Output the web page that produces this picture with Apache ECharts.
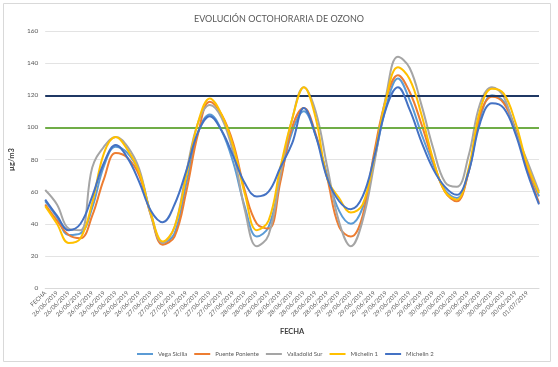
<!DOCTYPE html>
<html><head><meta charset="utf-8">
<script src="https://cdn.jsdelivr.net/npm/echarts@6/dist/echarts.min.js"></script>
<style>html,body{margin:0;padding:0;background:#fff}#c{width:558px;height:367px}</style>
</head><body><div id="c"></div>
<script>
const fechas = ["FECHA",
 "26/06/2019","26/06/2019","26/06/2019","26/06/2019","26/06/2019","26/06/2019","26/06/2019","26/06/2019",
 "27/06/2019","27/06/2019","27/06/2019","27/06/2019","27/06/2019","27/06/2019","27/06/2019","27/06/2019",
 "28/06/2019","28/06/2019","28/06/2019","28/06/2019","28/06/2019","28/06/2019","28/06/2019","28/06/2019",
 "29/06/2019","29/06/2019","29/06/2019","29/06/2019","29/06/2019","29/06/2019","29/06/2019","29/06/2019",
 "30/06/2019","30/06/2019","30/06/2019","30/06/2019","30/06/2019","30/06/2019","30/06/2019","30/06/2019",
 "01/07/2019","01/07/2019"];
const yTicks = [0,20,40,60,80,100,120,140,160];

const vegaSicilia = [54,44,33,34,50,76,88, 84,72,46,28,34,65,97,108, 98,78,50,32,38,68,97,110,
  95,70,48,40,50,80,113,130.5, 117,96,77,61,56,72,106,120, 116,99,76,57];
const puentePoniente = [52,42,33,31,45,68,84, 81,70,45,27,32,60,96,116, 108,90,60,40,37,66,100,112,
  96,68,38,32,45,85,118,132.5, 122,102,79,60,54,72,108,119, 115,98,74,53];
const valladolidSur = [61,52,37,36,75,88,94, 88,74,45,28,38,72,103,114, 106,84,48,26,33,70,105,125,
  110,75,41,26,42,78,120,144, 137,114,87,66,63,82,115,125, 119,97,79,60];
const michelin1 = [51,40,28,31,53,84,94, 86,72,46,29,38,70,103,118, 108,88,58,36,42,75,105,125,
  106,68,56,47,52,82,118,137.5, 130,108,80,60,55,74,111,124, 121,103,77,59];
const michelin2 = [55,45,36,40,57,78,89, 81,66,48,41,52,73,97,107, 98,82,65,57,60,75,90,112,
  95,68,54,49,57,82,112,125, 111,91,74,63,58,72,103,115, 112,96,72,52];

const umbralInformacion = 120;
const valorObjetivo = 100;

const names = ["Vega Sicilia","Puente Poniente","Valladolid Sur","Michelin 1","Michelin 2"];
const values = [vegaSicilia, puentePoniente, valladolidSur, michelin1, michelin2];
const colors = ["#5B9BD5","#ED7D31","#A5A5A5","#FFC000","#4472C4"];
const FONT = "Lato";

const chart = echarts.init(document.getElementById('c'));
const series = names.map((n,i)=>({
  name:n, type:'line', data:values[i], smooth:0.4, showSymbol:false, symbol:'none',
  lineStyle:{width:2,color:colors[i]}, itemStyle:{color:colors[i]}, z:2+i,
  emphasis:{disabled:true}
}));
series[4].markLine = {
  silent:true, symbol:'none', label:{show:false},
  data:[
    {yAxis:umbralInformacion, lineStyle:{color:'#1F3864',width:2,type:'solid'}},
    {yAxis:valorObjetivo, lineStyle:{color:'#70AD47',width:2,type:'solid'}}
  ]
};
chart.setOption({
  animation:false,
  textStyle:{fontFamily:FONT},
  title:{text:'EVOLUCIÓN OCTOHORARIA DE OZONO', left:'center', top:10,
    textStyle:{fontFamily:FONT,fontSize:9,fontWeight:'normal',color:'#595959'}},
  graphic:[{type:'rect',shape:{x:3.5,y:3.5,width:547,height:358},style:{fill:'none',stroke:'#D9D9D9',lineWidth:1},silent:true}],
  grid:{left:43,right:19,top:31,bottom:79},
  legend:{data:names, left:132, top:346, icon:'rect', itemWidth:16, itemHeight:2, itemGap:7,
    textStyle:{fontFamily:FONT,fontSize:6,color:'#595959'}},
  xAxis:{type:'category', data:fechas, boundaryGap:false,
    name:'FECHA', nameLocation:'middle', nameGap:40,
    nameTextStyle:{fontFamily:FONT,fontSize:7.5,fontWeight:'bold',color:'#404040'},
    axisLine:{lineStyle:{color:'#D9D9D9'}}, axisTick:{show:false},
    axisLabel:{rotate:45, fontSize:6, color:'#595959', margin:4,
      interval:(idx)=>idx < fechas.length-1}},
  yAxis:{type:'value', min:yTicks[0], max:yTicks[yTicks.length-1], interval:20,
    name:'µg/m3', nameLocation:'middle', nameGap:25, nameRotate:90,
    nameTextStyle:{fontFamily:FONT,fontSize:7.5,fontWeight:'bold',color:'#404040'},
    axisLine:{show:false}, axisTick:{show:false},
    axisLabel:{fontSize:6.5, color:'#595959', margin:7},
    splitLine:{lineStyle:{color:'#E3E3E3'}}},
  series:series
});
</script></body></html>
